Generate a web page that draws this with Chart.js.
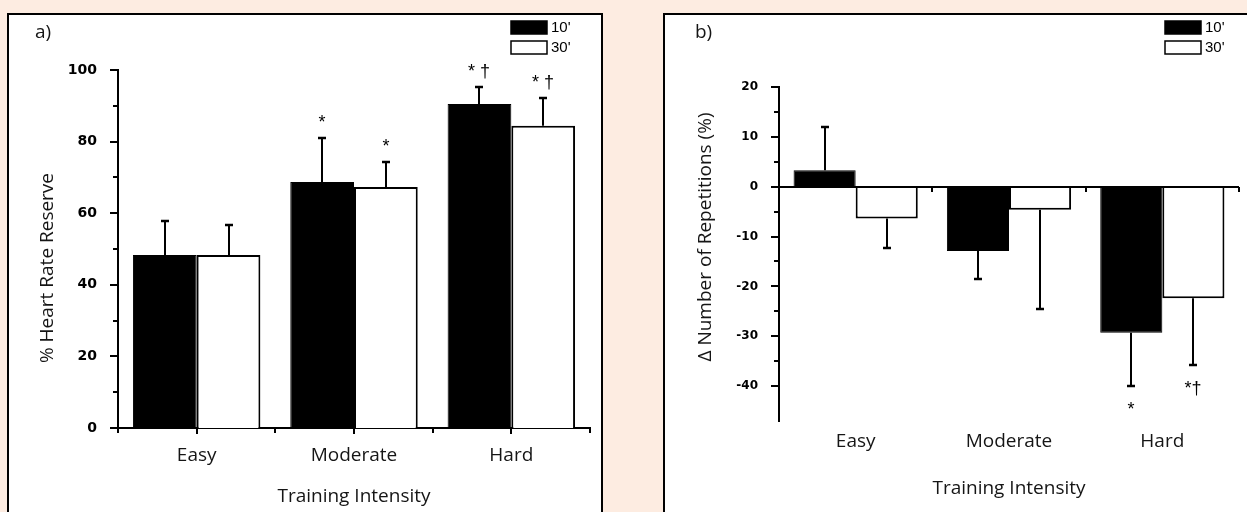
<!DOCTYPE html>
<html>
<head>
<meta charset="utf-8">
<script src="https://cdn.jsdelivr.net/npm/chart.js@4.4.1/dist/chart.umd.min.js"></script>
<style>
  html, body { margin: 0; padding: 0; }
  body { width: 1247px; height: 512px; background: #fdece1; overflow: hidden; position: relative; }
  .panel { position: absolute; background: #fff; border: 2px solid #000; }
  #panelA { left: 7px; top: 13px; width: 592px; height: 510px; }
  #panelB { left: 663px; top: 13px; width: 600px; height: 510px; border-right: none; }
  canvas { display: block; }
</style>
</head>
<body>
<div class="panel" id="panelA"><canvas id="chartA" width="592" height="497"></canvas></div>
<div class="panel" id="panelB"><canvas id="chartB" width="582" height="497"></canvas></div>
<script>
const categories = ['Easy', 'Moderate', 'Hard'];
const seriesLabels = ["10'", "30'"];

// a) % heart rate reserve, mean and SD
const hrr10 = [48.3, 68.7, 90.5];
const hrr10Sd = [9.6, 12.4, 4.7];
const hrr30 = [48.3, 67.3, 84.4];
const hrr30Sd = [8.4, 6.9, 7.8];
const hrr10Marks = ['', '*', '* †'];
const hrr30Marks = ['', '*', '* †'];
const hrrTicks = [0, 20, 40, 60, 80, 100];

// b) change in number of repetitions (%), mean and SD
const rep10 = [3.3, -12.9, -29.3];
const rep10Sd = [8.7, 5.7, 10.6];
const rep30 = [-6.4, -4.6, -22.4];
const rep30Sd = [5.9, 19.9, 13.3];
const rep10Marks = ['', '', '*'];
const rep30Marks = ['', '', '*†'];
const repTicks = [-40, -30, -20, -10, 0, 10, 20];

const textColor = '#151515';
const labelFont = 'Open Sans';

// axis ticks, zero line, error bars, stars, legend, panel letter
const figureBits = {
  id: 'figureBits',
  afterDatasetsDraw(chart, args, o) {
    const ctx = chart.ctx;
    const xs = chart.scales.x, ys = chart.scales.y;
    const area = chart.chartArea;
    ctx.save();
    ctx.strokeStyle = '#000';
    ctx.lineWidth = 2;
    ctx.beginPath();
    ys.ticks.forEach(t => {
      if (t.value % o.minorStep !== 0) return;
      const py = Math.round(ys.getPixelForValue(t.value));
      const len = t.value % o.majorStep === 0 ? 8 : 5;
      ctx.moveTo(area.left - len, py);
      ctx.lineTo(area.left, py);
    });
    const zeroY = Math.round(ys.getPixelForValue(0));
    if (o.zeroLine) {
      ctx.moveTo(area.left, zeroY);
      ctx.lineTo(area.right, zeroY);
    }
    const step = xs.getPixelForValue(1) - xs.getPixelForValue(0);
    for (let i = 0; i <= categories.length; i++) {
      const px = Math.round(xs.getPixelForValue(0) + (i - 0.5) * step);
      ctx.moveTo(px, zeroY);
      ctx.lineTo(px, zeroY + 5);
    }
    if (o.centerTicks) {
      categories.forEach((c, i) => {
        const px = Math.round(xs.getPixelForValue(i));
        ctx.moveTo(px, zeroY);
        ctx.lineTo(px, zeroY + 6);
      });
    }
    ctx.stroke();

    // error bars + significance marks
    ctx.font = '18px "Liberation Sans"';
    ctx.fillStyle = '#000';
    ctx.textAlign = 'center';
    ctx.textBaseline = 'alphabetic';
    chart.data.datasets.forEach((ds, di) => {
      chart.getDatasetMeta(di).data.forEach((bar, i) => {
        const v = ds.data[i];
        const dir = v >= 0 ? 1 : -1;
        const y0 = ys.getPixelForValue(v);
        const y1 = Math.round(ys.getPixelForValue(v + dir * ds.errors[i]));
        const bx = Math.round(bar.x);
        ctx.beginPath();
        ctx.lineWidth = 2;
        ctx.moveTo(bx, y0);
        ctx.lineTo(bx, y1);
        ctx.stroke();
        ctx.beginPath();
        ctx.lineWidth = 2.5;
        ctx.moveTo(bx - 4, y1);
        ctx.lineTo(bx + 4, y1);
        ctx.stroke();
        if (ds.marks[i]) {
          ctx.fillText(ds.marks[i], bx, dir > 0 ? y1 - 10 : y1 + 29);
        }
      });
    });

    // legend
    const lg = o.legend;
    ctx.font = '15px "Liberation Sans"';
    ctx.textAlign = 'left';
    ctx.textBaseline = 'middle';
    chart.data.datasets.forEach((ds, k) => {
      const by = lg.y + k * 20;
      ctx.fillStyle = ds.backgroundColor;
      ctx.fillRect(lg.x, by, 36, 13);
      ctx.lineWidth = 1.5;
      ctx.strokeStyle = '#000';
      ctx.strokeRect(lg.x, by, 36, 13);
      ctx.fillStyle = '#000';
      ctx.fillText(ds.label, lg.x + 40, by + 7);
    });

    // panel letter
    ctx.font = '19px "' + labelFont + '"';
    ctx.fillStyle = textColor;
    ctx.textBaseline = 'alphabetic';
    ctx.fillText(o.letter.text, o.letter.x, o.letter.y);

    // y title
    ctx.translate(o.yTitle.x, o.yTitle.y);
    ctx.rotate(-Math.PI / 2);
    ctx.textAlign = 'center';
    ctx.textBaseline = 'middle';
    ctx.font = '19px "' + labelFont + '"';
    ctx.fillText(o.yTitle.text, 0, 0);
    ctx.restore();
  }
};

function makeChart(id, c) {
  return new Chart(document.getElementById(id), {
    type: 'bar',
    data: {
      labels: categories,
      datasets: [
        { label: seriesLabels[0], data: c.v10, errors: c.e10, marks: c.m10,
          backgroundColor: '#000', borderColor: '#000', borderWidth: 1 },
        { label: seriesLabels[1], data: c.v30, errors: c.e30, marks: c.m30,
          backgroundColor: '#fff', borderColor: '#000', borderWidth: 2 }
      ]
    },
    options: {
      responsive: false,
      animation: false,
      layout: { padding: { top: c.top, right: c.right, left: 0, bottom: 0 } },
      datasets: { bar: { categoryPercentage: 0.81, barPercentage: 1 } },
      plugins: {
        legend: { display: false },
        tooltip: { enabled: false },
        figureBits: c.bits
      },
      scales: {
        x: {
          grid: { display: false, drawTicks: false },
          border: { display: c.xBorder, width: 2, color: '#000' },
          ticks: { color: textColor, font: { family: labelFont, size: 19 }, padding: c.xPad },
          title: { display: true, text: 'Training Intensity', color: textColor,
                   font: { family: labelFont, size: 19 }, padding: { top: 0, bottom: c.xTitlePad } },
          afterFit: s => { s.height = c.xHeight; }
        },
        y: {
          min: c.min, max: c.max,
          grid: { display: false, drawTicks: false },
          border: { display: true, width: 2, color: '#000' },
          ticks: {
            stepSize: c.step, autoSkip: false, padding: 21, color: '#000',
            font: { family: 'DejaVu Sans', weight: 'bold', size: c.tickSize },
            callback: v => (c.tickLabels.includes(v) ? String(v) : '')
          },
          afterFit: s => { s.width = c.left; }
        }
      }
    },
    plugins: [figureBits]
  });
}

async function draw() {
  try {
    await Promise.all([
      document.fonts.load('19px "Open Sans"'),
      document.fonts.load('bold 14px "DejaVu Sans"'),
      document.fonts.load('16px "Liberation Sans"')
    ]);
  } catch (e) {}

  makeChart('chartA', {
    v10: hrr10, e10: hrr10Sd, m10: hrr10Marks,
    v30: hrr30, e30: hrr30Sd, m30: hrr30Marks,
    min: 0, max: 100, step: 10, tickLabels: hrrTicks, tickSize: 14,
    top: 55, right: 11, left: 109, xHeight: 84, xPad: 16, xTitlePad: 4, xBorder: true,
    bits: {
      minorStep: 10, majorStep: 20, zeroLine: false, centerTicks: true,
      legend: { x: 502, y: 6 },
      letter: { text: 'a)', x: 26, y: 23 },
      yTitle: { text: '% Heart Rate Reserve', x: 39, y: 253 }
    }
  });

  makeChart('chartB', {
    v10: rep10, e10: rep10Sd, m10: rep10Marks,
    v30: rep30, e30: rep30Sd, m30: rep30Marks,
    min: -47, max: 20, step: 5, tickLabels: repTicks, tickSize: 12,
    top: 72, right: 8, left: 114, xHeight: 91, xPad: 9, xTitlePad: 12, xBorder: false,
    bits: {
      minorStep: 5, majorStep: 10, zeroLine: true, centerTicks: false,
      legend: { x: 500, y: 6 },
      letter: { text: 'b)', x: 30, y: 23 },
      yTitle: { text: 'Δ Number of Repetitions (%)', x: 41, y: 222 }
    }
  });
}
draw();
</script>
</body>
</html>
